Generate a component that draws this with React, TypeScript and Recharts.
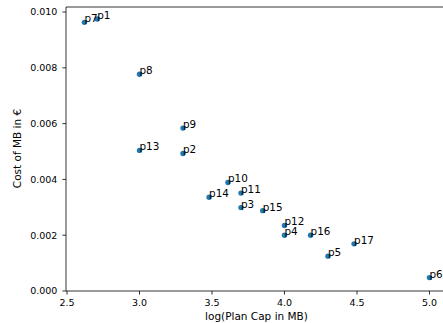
import React from 'react';
import {
  ScatterChart,
  Scatter,
  XAxis,
  YAxis,
  ReferenceLine,
} from 'recharts';

const planNames = ['p1', 'p2', 'p3', 'p4', 'p5', 'p6', 'p7', 'p8', 'p9', 'p10', 'p11', 'p12', 'p13', 'p14', 'p15', 'p16', 'p17'];
const logPlanCap = [2.708, 3.3, 3.7, 4.0, 4.3, 5.0, 2.62, 3.0, 3.3, 3.61, 3.7, 4.0, 3.0, 3.48, 3.85, 4.18, 4.48];
const costPerMb = [0.00975, 0.00493, 0.00299, 0.002, 0.00125, 0.00048, 0.00963, 0.00777, 0.00584, 0.00389, 0.00351, 0.00235, 0.00504, 0.00336, 0.00288, 0.002, 0.00169];
const xTicks = [2.5, 3.0, 3.5, 4.0, 4.5, 5.0];
const yTicks = [0, 0.002, 0.004, 0.006, 0.008, 0.01];

const X_DOMAIN: [number, number] = [2.493, 5.121];
const Y_DOMAIN: [number, number] = [0, 0.01018];

const points = planNames.map((name, i) => ({ name, x: logPlanCap[i], y: costPerMb[i] }));

const FONT = 'DejaVu Sans';
const tickStyle = { fill: '#000', fontSize: 9.5, fontFamily: FONT };
const axisLine = { stroke: '#000', strokeWidth: 0.8 };

const Dot = (props: any) => {
  const { cx, cy } = props;
  return <circle cx={cx} cy={cy} r={2.7} fill="#1f77b4" />;
};

// annotation text sits with its baseline on the point, like plt.annotate
const PointLabel = (props: any) => {
  const { cx, cy, payload } = props;
  return (
    <text x={cx} y={cy} fontSize={10.4} fontFamily={FONT} fill="#000" textAnchor="start">
      {payload.name}
    </text>
  );
};

export default function App() {
  return (
    <div style={{ position: 'absolute', left: 0, top: 0, width: 443, height: 323, overflow: 'hidden', background: '#fff' }}>
      <ScatterChart width={447} height={323} margin={{ top: 7, right: 0, bottom: 0, left: 0 }}>
        <XAxis
          type="number"
          dataKey="x"
          domain={X_DOMAIN}
          ticks={xTicks}
          tickFormatter={(v: number) => v.toFixed(1)}
          height={32}
          tickSize={3.6}
          tickMargin={5}
          tick={tickStyle}
          axisLine={axisLine}
          tickLine={axisLine}
          allowDataOverflow
          label={{
            content: () => (
              <text x={256.5} y={319.5} textAnchor="middle" fontSize={10.5} fontFamily={FONT} fill="#000">
                log(Plan Cap in MB)
              </text>
            ),
          }}
        />
        <YAxis
          type="number"
          dataKey="y"
          domain={Y_DOMAIN}
          ticks={yTicks}
          tickFormatter={(v: number) => v.toFixed(3)}
          width={66}
          tickSize={3.6}
          tickMargin={5}
          tick={tickStyle}
          axisLine={axisLine}
          tickLine={axisLine}
          allowDataOverflow
          label={{
            content: () => (
              <text
                transform="translate(20.5,148.5) rotate(-90)"
                textAnchor="middle"
                fontSize={10.5}
                fontFamily={FONT}
                fill="#000"
              >
                Cost of MB in €
              </text>
            ),
          }}
        />
        <ReferenceLine y={Y_DOMAIN[1]} stroke="#000" strokeWidth={0.8} />
        <Scatter data={points} shape={Dot} isAnimationActive={false} />
        <Scatter data={points} shape={PointLabel} isAnimationActive={false} />
      </ScatterChart>
    </div>
  );
}
